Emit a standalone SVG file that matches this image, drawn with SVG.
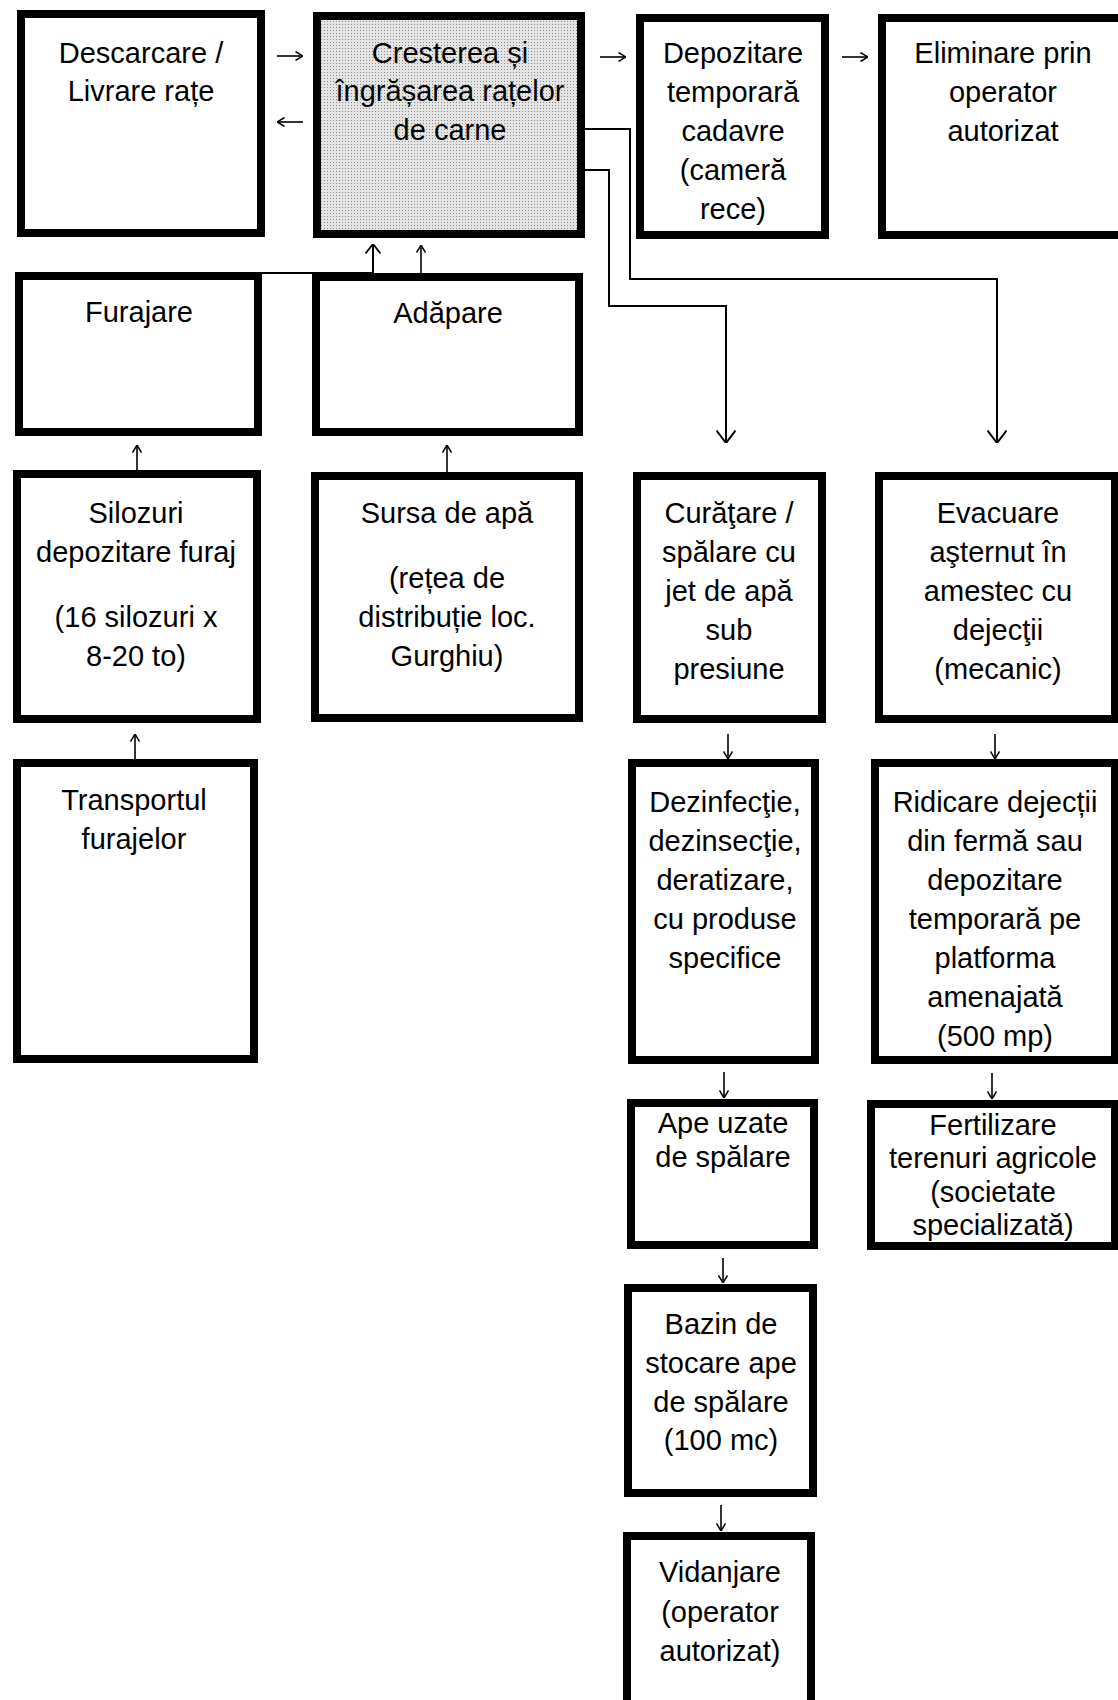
<svg xmlns="http://www.w3.org/2000/svg" width="1118" height="1700" viewBox="0 0 1118 1700">
<style>
.box{fill:#fff;stroke:#000;stroke-width:8}
.shaded{fill:url(#stipple);stroke:#000;stroke-width:8}
.t{font-family:"Liberation Sans",Arial,sans-serif;font-size:29px;fill:#000;text-anchor:middle}
.c{fill:none;stroke:#000;stroke-width:2}
.s{fill:none;stroke:#000;stroke-width:1.6}
</style>
<defs>
<pattern id="stipple" width="3" height="3" patternUnits="userSpaceOnUse">
<rect width="3" height="3" fill="#e4e4e4"/>
<rect width="1" height="1" fill="#8a8a8a"/>
</pattern>
<marker id="hl" viewBox="0 0 13 20" refX="13" refY="10" markerWidth="13" markerHeight="20" markerUnits="userSpaceOnUse" orient="auto">
<path d="M0.5,0.5 L13,10 L0.5,19.5" fill="none" stroke="#000" stroke-width="2"/>
</marker>
<marker id="hm" viewBox="0 0 10 16" refX="10" refY="8" markerWidth="10" markerHeight="16" markerUnits="userSpaceOnUse" orient="auto">
<path d="M0.5,0.5 L10,8 L0.5,15.5" fill="none" stroke="#000" stroke-width="1.8"/>
</marker>
<marker id="hs" viewBox="0 0 8 10" refX="8" refY="5" markerWidth="8" markerHeight="10" markerUnits="userSpaceOnUse" orient="auto">
<path d="M0.5,0.5 L8,5 L0.5,9.5" fill="none" stroke="#000" stroke-width="1.5"/>
</marker>
</defs>
<rect width="1118" height="1700" fill="#fff"/>

<g id="connectors">
<line class="s" x1="277" y1="56" x2="303" y2="56" marker-end="url(#hs)"/>
<line class="s" x1="303" y1="122" x2="277" y2="122" marker-end="url(#hs)"/>
<line class="s" x1="600" y1="57" x2="626" y2="57" marker-end="url(#hs)"/>
<line class="s" x1="842" y1="57" x2="868" y2="57" marker-end="url(#hs)"/>
<path class="c" d="M136,290 V273 H373 V244" marker-end="url(#hm)"/>
<line class="s" x1="421" y1="273" x2="421" y2="245" marker-end="url(#hs)"/>
<line class="s" x1="137" y1="470" x2="137" y2="445" marker-end="url(#hs)"/>
<line class="s" x1="447" y1="472" x2="447" y2="445" marker-end="url(#hs)"/>
<line class="s" x1="135" y1="759" x2="135" y2="734" marker-end="url(#hs)"/>
<path class="c" d="M585,129 H630 V279 H997 V443" marker-end="url(#hl)"/>
<path class="c" d="M585,170 H609 V306 H726 V443" marker-end="url(#hl)"/>
<line class="s" x1="728" y1="734" x2="728" y2="759" marker-end="url(#hs)"/>
<line class="s" x1="995" y1="734" x2="995" y2="759" marker-end="url(#hs)"/>
<line class="s" x1="724" y1="1072" x2="724" y2="1098" marker-end="url(#hs)"/>
<line class="s" x1="992" y1="1073" x2="992" y2="1099" marker-end="url(#hs)"/>
<line class="s" x1="723" y1="1258" x2="723" y2="1283" marker-end="url(#hs)"/>
<line class="s" x1="721" y1="1505" x2="721" y2="1531" marker-end="url(#hs)"/>
</g>

<g id="descarcare">
<rect class="box" x="21" y="14" width="240" height="219"/>
<text class="t" x="141" y="63">Descarcare /</text>
<text class="t" x="141" y="101">Livrare rațe</text>
</g>
<g id="cresterea">
<rect class="shaded" x="317" y="16" width="264" height="218"/>
<text class="t" x="450" y="63">Cresterea și</text>
<text class="t" x="450" y="101">îngrășarea rațelor</text>
<text class="t" x="450" y="140">de carne</text>
</g>
<g id="depozitare">
<rect class="box" x="640" y="18" width="185" height="217"/>
<text class="t" x="733" y="63">Depozitare</text>
<text class="t" x="733" y="102">temporară</text>
<text class="t" x="733" y="141">cadavre</text>
<text class="t" x="733" y="180">(cameră</text>
<text class="t" x="733" y="219">rece)</text>
</g>
<g id="eliminare">
<rect class="box" x="882" y="18" width="240" height="217"/>
<text class="t" x="1003" y="63">Eliminare prin</text>
<text class="t" x="1003" y="102">operator</text>
<text class="t" x="1003" y="141">autorizat</text>
</g>
<g id="furajare">
<rect class="box" x="19" y="276" width="239" height="156"/>
<text class="t" x="139" y="322">Furajare</text>
</g>
<g id="adapare">
<rect class="box" x="316" y="277" width="263" height="155"/>
<text class="t" x="448" y="323">Adăpare</text>
</g>
<g id="silozuri">
<rect class="box" x="17" y="474" width="240" height="245"/>
<text class="t" x="136" y="523">Silozuri</text>
<text class="t" x="136" y="562">depozitare furaj</text>
<text class="t" x="136" y="627">(16 silozuri x</text>
<text class="t" x="136" y="666">8-20 to)</text>
</g>
<g id="sursa">
<rect class="box" x="315" y="476" width="264" height="242"/>
<text class="t" x="447" y="523">Sursa de apă</text>
<text class="t" x="447" y="588">(rețea de</text>
<text class="t" x="447" y="627">distribuție loc.</text>
<text class="t" x="447" y="666">Gurghiu)</text>
</g>
<g id="curatare">
<rect class="box" x="637" y="476" width="185" height="243"/>
<text class="t" x="729" y="523">Curăţare /</text>
<text class="t" x="729" y="562">spălare cu</text>
<text class="t" x="729" y="601">jet de apă</text>
<text class="t" x="729" y="640">sub</text>
<text class="t" x="729" y="679">presiune</text>
</g>
<g id="evacuare">
<rect class="box" x="879" y="476" width="236" height="243"/>
<text class="t" x="998" y="523">Evacuare</text>
<text class="t" x="998" y="562">aşternut în</text>
<text class="t" x="998" y="601">amestec cu</text>
<text class="t" x="998" y="640">dejecţii</text>
<text class="t" x="998" y="679">(mecanic)</text>
</g>
<g id="transportul">
<rect class="box" x="17" y="763" width="237" height="296"/>
<text class="t" x="134" y="810">Transportul</text>
<text class="t" x="134" y="849">furajelor</text>
</g>
<g id="dezinfectie">
<rect class="box" x="632" y="763" width="183" height="297"/>
<text class="t" x="725" y="812">Dezinfecţie,</text>
<text class="t" x="725" y="851">dezinsecţie,</text>
<text class="t" x="725" y="890">deratizare,</text>
<text class="t" x="725" y="929">cu produse</text>
<text class="t" x="725" y="968">specifice</text>
</g>
<g id="ridicare">
<rect class="box" x="875" y="763" width="240" height="297"/>
<text class="t" x="995" y="812">Ridicare dejecții</text>
<text class="t" x="995" y="851">din fermă sau</text>
<text class="t" x="995" y="890">depozitare</text>
<text class="t" x="995" y="929">temporară pe</text>
<text class="t" x="995" y="968">platforma</text>
<text class="t" x="995" y="1007">amenajată</text>
<text class="t" x="995" y="1046">(500 mp)</text>
</g>
<g id="ape-uzate">
<rect class="box" x="631" y="1103" width="183" height="142"/>
<text class="t" x="723" y="1133">Ape uzate</text>
<text class="t" x="723" y="1167">de spălare</text>
</g>
<g id="fertilizare">
<rect class="box" x="871" y="1104" width="244" height="142"/>
<text class="t" x="993" y="1135">Fertilizare</text>
<text class="t" x="993" y="1168">terenuri agricole</text>
<text class="t" x="993" y="1202">(societate</text>
<text class="t" x="993" y="1235">specializată)</text>
</g>
<g id="bazin">
<rect class="box" x="628" y="1288" width="185" height="205"/>
<text class="t" x="721" y="1334">Bazin de</text>
<text class="t" x="721" y="1373">stocare ape</text>
<text class="t" x="721" y="1412">de spălare</text>
<text class="t" x="721" y="1450">(100 mc)</text>
</g>
<g id="vidanjare">
<rect class="box" x="627" y="1536" width="184" height="170"/>
<text class="t" x="720" y="1582">Vidanjare</text>
<text class="t" x="720" y="1622">(operator</text>
<text class="t" x="720" y="1661">autorizat)</text>
</g>
</svg>
